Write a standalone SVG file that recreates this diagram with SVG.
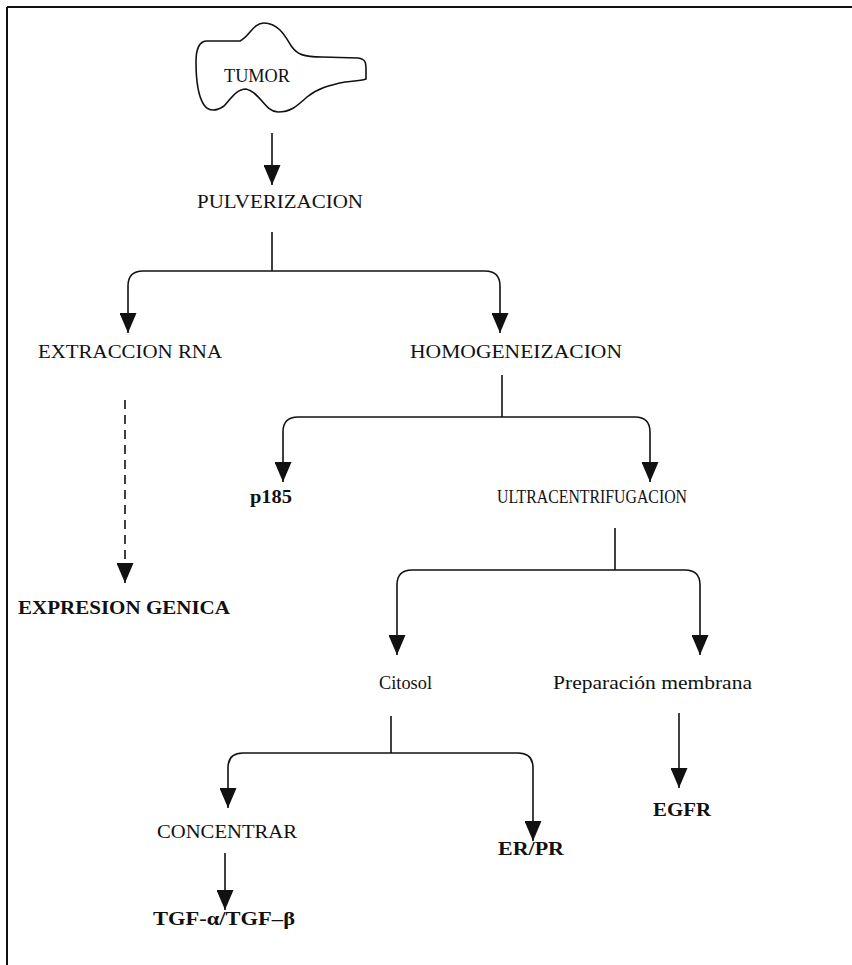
<svg xmlns="http://www.w3.org/2000/svg" width="852" height="965" viewBox="0 0 852 965">
<style>
.t{font-family:"Liberation Serif","Times New Roman",serif;font-size:19.5px;fill:#111}
.b{font-weight:bold}
.c{fill:none;stroke:#111;stroke-width:1.6}
.d{stroke-dasharray:9,6}
</style>
<defs>
<marker id="ah" markerUnits="userSpaceOnUse" markerWidth="20" markerHeight="17" viewBox="0 0 20 17" refX="20" refY="8.5" orient="auto">
<path d="M0,0 L20,8.5 L0,17 Z" fill="#111"/>
</marker>
</defs>
<rect width="852" height="965" fill="#fff"/>
<g id="frame" class="c">
<line x1="7" y1="7" x2="852" y2="7" stroke-width="2"/>
<line x1="7" y1="7" x2="7" y2="965" stroke-width="2"/>
</g>
<g id="tumor">
<path class="c" d="M207,41 L240,41 C250,36 253,23 264,23 C280,23 287,40 292,47 C297,54 303,57 322,57 L358,58 C366,59 366,63 366,70 L366,79 C360,81 352,81 345,82 C330,85 318,88 307,97 C297,106 291,112 278,112 C265,112 260,92 246,89 C236,89 230,100 224,106 C217,111 209,112 204,105 C198,96 196,82 196,62 C196,50 199,41 207,41 Z"/>
<text class="t" x="224" y="82" font-size="18" textLength="66" lengthAdjust="spacingAndGlyphs">TUMOR</text>
</g>
<g id="pulverizacion"><text class="t" x="197" y="208" textLength="166" lengthAdjust="spacingAndGlyphs">PULVERIZACION</text></g>
<g id="extraccion"><text class="t" x="38" y="358" textLength="184" lengthAdjust="spacingAndGlyphs">EXTRACCION RNA</text></g>
<g id="homogeneizacion"><text class="t" x="410" y="358" textLength="212" lengthAdjust="spacingAndGlyphs">HOMOGENEIZACION</text></g>
<g id="expresion"><text class="t b" x="18" y="614" textLength="212" lengthAdjust="spacingAndGlyphs">EXPRESION GENICA</text></g>
<g id="p185"><text class="t b" x="250" y="503" textLength="42" lengthAdjust="spacingAndGlyphs">p185</text></g>
<g id="ultracentrifugacion"><text class="t" x="497" y="503" font-size="18.5" textLength="190" lengthAdjust="spacingAndGlyphs">ULTRACENTRIFUGACION</text></g>
<g id="citosol"><text class="t" x="379" y="689" font-size="20" textLength="53" lengthAdjust="spacingAndGlyphs">Citosol</text></g>
<g id="membrana"><text class="t" x="553" y="689" textLength="199" lengthAdjust="spacingAndGlyphs">Preparación membrana</text></g>
<g id="concentrar"><text class="t" x="157" y="838" textLength="140" lengthAdjust="spacingAndGlyphs">CONCENTRAR</text></g>
<g id="erpr"><text class="t b" x="498" y="855" textLength="66" lengthAdjust="spacingAndGlyphs">ER/PR</text></g>
<g id="egfr"><text class="t b" x="653" y="816" textLength="58" lengthAdjust="spacingAndGlyphs">EGFR</text></g>
<g id="tgf"><text class="t b" x="153" y="925" textLength="142" lengthAdjust="spacingAndGlyphs">TGF-α/TGF–β</text></g>
<g id="connectors">
<path class="c" d="M272,133 V185" marker-end="url(#ah)"/>
<path class="c" d="M272,232 V271"/>
<path class="c" d="M272,271 H143 Q128,271 128,286 V333" marker-end="url(#ah)"/>
<path class="c" d="M272,271 H485 Q500,271 500,286 V333" marker-end="url(#ah)"/>
<path class="c d" d="M125,400 V583" marker-end="url(#ah)"/>
<path class="c" d="M502,375 V417"/>
<path class="c" d="M502,417 H298 Q283,417 283,432 V482" marker-end="url(#ah)"/>
<path class="c" d="M502,417 H635 Q650,417 650,432 V482" marker-end="url(#ah)"/>
<path class="c" d="M615,528 V570"/>
<path class="c" d="M615,570 H412 Q397,570 397,585 V655" marker-end="url(#ah)"/>
<path class="c" d="M615,570 H685 Q700,570 700,585 V655" marker-end="url(#ah)"/>
<path class="c" d="M391,716 V753"/>
<path class="c" d="M391,753 H243 Q228,753 228,768 V808" marker-end="url(#ah)"/>
<path class="c" d="M391,753 H518 Q533,753 533,768 V841" marker-end="url(#ah)"/>
<path class="c" d="M679,713 V788" marker-end="url(#ah)"/>
<path class="c" d="M225,853 V910" marker-end="url(#ah)"/>
</g>
</svg>
